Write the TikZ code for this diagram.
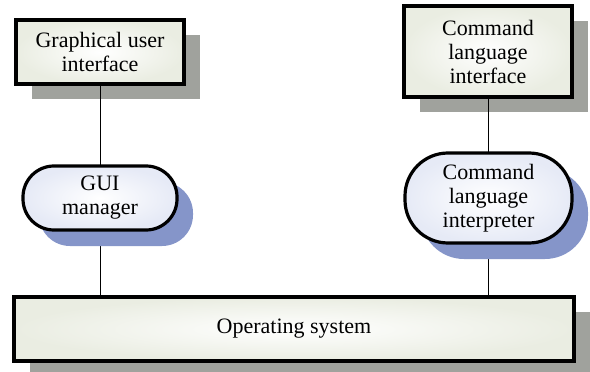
\documentclass[tikz,border=0pt]{standalone}
\usepackage{fontspec}
\setmainfont{Liberation Serif}
\usetikzlibrary{shadows}
\begin{document}
\begin{tikzpicture}[x=1pt,y=-1pt,
  txt/.style={font=\fontsize{22}{24}\selectfont, align=center, inner sep=0pt},
  boxstyle/.style={txt, draw=black, line width=3.2pt, inner color=white, outer color={rgb,255:red,234;green,237;blue,226},
    drop shadow={shadow xshift=16pt, shadow yshift=-15pt, fill={rgb,255:red,160;green,162;blue,157}, opacity=1, draw=none}},
  pillstyle/.style={txt, draw=black, line width=3.2pt, inner color=white, outer color={rgb,255:red,230;green,234;blue,246},
    drop shadow={shadow xshift=16pt, shadow yshift=-16pt, fill={rgb,255:red,133;green,149;blue,201}, opacity=1, draw=none}},
  conn/.style={draw=black, line width=0.8pt}]
\useasboundingbox (0,0) rectangle (590,372);
\node[boxstyle, minimum width=168pt, minimum height=64pt] (gui) at (100,52) {Graphical user\\interface};
\node[boxstyle, minimum width=168pt, minimum height=91pt] (cli) at (488,51.5) {Command\\language\\interface};
\node[boxstyle, minimum width=560pt, minimum height=64pt] (os) at (294,329) {Operating system};
\draw[conn] (gui.south) -- (gui.south |- os.north);
\draw[conn] (cli.south) -- (cli.south |- os.north);
\node[pillstyle, rounded corners=31pt, minimum width=154pt, minimum height=64pt] (guim) at (100,198) {GUI\\manager};
\node[pillstyle, rounded corners=43pt, minimum width=167pt, minimum height=90pt] (cli2) at (488.5,198) {Command\\language\\interpreter};
\end{tikzpicture}
\end{document}
